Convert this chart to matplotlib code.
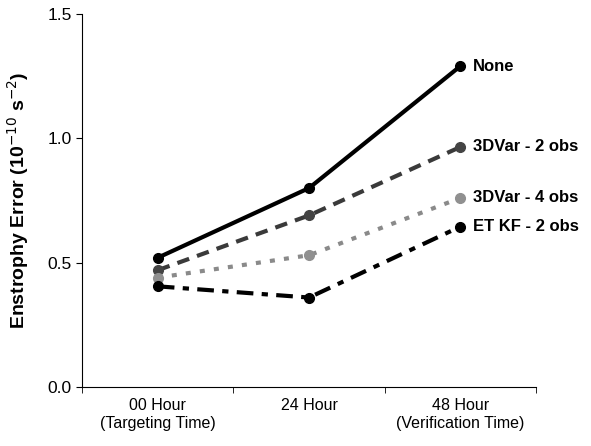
import matplotlib.pyplot as plt
from matplotlib.ticker import FixedLocator

plt.rcParams['font.family'] = ['Liberation Sans', 'DejaVu Sans']

# Data
categories = ['00 Hour\n(Targeting Time)', '24 Hour', '48 Hour\n(Verification Time)']
none_vals = [0.52, 0.80, 1.29]
var2_vals = [0.47, 0.69, 0.965]
var4_vals = [0.44, 0.53, 0.76]
etkf_vals = [0.405, 0.36, 0.645]
series_names = ['None', '3DVar - 2 obs', '3DVar - 4 obs', 'ET KF - 2 obs']

fig = plt.figure(figsize=(5.91, 4.46), dpi=100)
ax = fig.add_axes([0.139, 0.132, 0.768, 0.837])

x = list(range(len(categories)))

ax.plot(x, none_vals, color='black', lw=3, ls='-', marker='o', ms=7)
ax.plot(x, var2_vals, color='#3a3a3a', lw=3, ls=(0, (3, 2)), marker='o', ms=7,
        markerfacecolor='#444444', markeredgecolor='#444444')
ax.plot(x, var4_vals, color='#8a8a8a', lw=3, ls=(0, (1.2, 2.2)), marker='o', ms=7,
        markerfacecolor='#909090', markeredgecolor='#909090')
ax.plot(x, etkf_vals, color='black', lw=3, ls=(0, (4, 2, 1.5, 2)), marker='o', ms=7)

# series labels at right end
last_vals = [none_vals[-1], var2_vals[-1], var4_vals[-1], etkf_vals[-1]]
for name, v in zip(series_names, last_vals):
    ax.annotate(name, (x[-1], v), xytext=(9, 0), textcoords='offset points',
                va='center', ha='left', fontsize=12, fontweight='bold')

ax.set_xlim(-0.5, 2.5)
ax.set_ylim(0, 1.5)
ax.set_yticks([0.0, 0.5, 1.0, 1.5])
ax.set_yticklabels(['0.0', '0.5', '1.0', '1.5'], fontsize=12.5)
ax.set_xticks(x)
ax.set_xticklabels(categories, fontsize=11.5)
ax.xaxis.set_minor_locator(FixedLocator([-0.5, 0.5, 1.5, 2.5]))
ax.tick_params(axis='x', which='major', length=0, pad=8)
ax.tick_params(axis='x', which='minor', length=4, direction='out')
ax.tick_params(axis='y', length=4, direction='out')

ax.set_ylabel('Enstrophy Error (10$^{-10}$ s$^{-2}$)', fontsize=14, fontweight='bold', labelpad=12)

ax.spines['top'].set_visible(False)
ax.spines['right'].set_visible(False)

plt.savefig('out.png', dpi=100)
